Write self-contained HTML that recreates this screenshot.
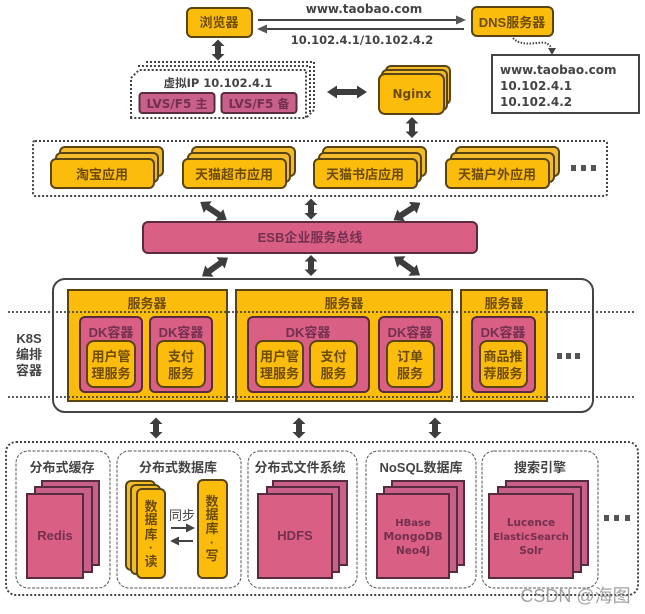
<!DOCTYPE html>
<html><head><meta charset="utf-8">
<style>
html,body{margin:0;padding:0;background:#fff}
svg{display:block}
text{font-family:"Liberation Sans","Noto Sans CJK SC",sans-serif;font-weight:bold;text-anchor:middle}
.y{fill:#fbbc0c;stroke:#5a4412;stroke-width:2}
.y2{fill:#f2bb2c;stroke:#5a4412;stroke-width:2}
.p{fill:#d95f85;stroke:#562c3e;stroke-width:2}
.p2{fill:#c9608a;stroke:#562c3e;stroke-width:2}
.ty{fill:#6d4c08;font-size:13px}
.tp{fill:#73304f;font-size:13px}
.td{fill:#444;font-size:13px}
.l{font-family:"DejaVu Sans","Noto Sans CJK SC",sans-serif}
.dot{fill:none;stroke:#444;stroke-width:2;stroke-dasharray:2 2}
.dash{fill:#fff;stroke:#555;stroke-width:1;stroke-dasharray:3 1.5}
.s{fill:#555}
</style></head><body>
<svg width="645" height="614" viewBox="0 0 645 614" xmlns="http://www.w3.org/2000/svg">
<defs>
<path id="a10" fill="#3d3d3d" d="M0-10.500 6.500-4H3V4H6.500L0 10.500-6.500 4H-3V-4H-6.500Z"/>
<path id="a16" fill="#3d3d3d" d="M0-16 7-7H3V7H7L0 16-7 7H-3V-7H-7Z"/>
<path id="a20" fill="#3d3d3d" d="M0-20 6.500-10H3V10H6.500L0 20-6.500 10H-3V-10H-6.500Z"/>
</defs>

<!-- top row -->
<rect class="y" x="187" y="8" width="65" height="29" rx="5"/>
<text class="ty" x="219" y="27">浏览器</text>
<rect class="y" x="472" y="7" width="81" height="29" rx="5"/>
<text class="ty" x="512" y="27">DNS服务器</text>
<path d="M258 20H458M267 29H464" stroke="#444" stroke-width="2" fill="none"/>
<path d="M466 20 456 15.500V24.500Z M257 29 267 24.500V33.500Z" fill="#555"/>
<text class="td l" x="364" y="13" style="font-size:12px">www.taobao.com</text>
<text class="td l" x="362" y="44" style="font-size:11.500px">10.102.4.1/10.102.4.2</text>
<path d="M513 38C522 48 540 41 546 43 550 45 551 47 552 50" fill="none" stroke="#444" stroke-width="2" stroke-dasharray="1.500 1.500"/>
<path d="M552 55 548 48H556Z" fill="#444"/>
<rect x="492" y="55" width="147" height="58" fill="#fff" stroke="#444" stroke-width="2"/>
<text class="td l" x="500" y="74" style="text-anchor:start;font-size:12px">www.taobao.com</text>
<text class="td l" x="500" y="90" style="text-anchor:start;font-size:12px">10.102.4.1</text>
<text class="td l" x="500" y="106" style="text-anchor:start;font-size:12px">10.102.4.2</text>

<!-- VIP -->
<use href="#a10" x="218" y="50"/>
<path class="dot" d="M146 62H314V110L306 118M138 66H310V114"/>
<path d="M131 118V78L139 70H306V118Z" fill="#fff" stroke="#444" stroke-width="2" stroke-dasharray="2 2"/>
<text class="td l" x="218" y="87" style="font-size:11.500px">虚拟IP 10.102.4.1</text>
<rect class="p2" x="139.500" y="93" width="75" height="20" rx="3"/>
<rect class="p2" x="221.500" y="93" width="75" height="20" rx="3"/>
<text class="tp l" x="177" y="108" style="font-size:12px">LVS/F5 主</text>
<text class="tp l" x="259" y="108" style="font-size:12px">LVS/F5 备</text>
<use href="#a20" transform="translate(347,92) rotate(90)"/>

<!-- Nginx -->
<rect class="y2" x="386" y="66" width="64" height="38" rx="5"/>
<rect class="y2" x="382" y="70" width="65" height="40" rx="5"/>
<rect class="y" x="379" y="74" width="65" height="40" rx="6"/>
<text class="ty l" x="412" y="98" style="font-size:12px">Nginx</text>
<use href="#a10" x="412" y="127.500"/>

<!-- apps -->
<rect x="33" y="141" width="574" height="55" rx="2" class="dot"/>
<rect class="y2" x="60" y="147" width="103" height="29" rx="5"/>
<rect class="y2" x="56" y="153" width="102" height="29" rx="5"/>
<rect class="y" x="51" y="159" width="103" height="29" rx="5"/>
<rect class="y2" x="192" y="147" width="103" height="29" rx="5"/>
<rect class="y2" x="188" y="153" width="102" height="29" rx="5"/>
<rect class="y" x="183" y="159" width="103" height="29" rx="5"/>
<rect class="y2" x="323" y="147" width="103" height="29" rx="5"/>
<rect class="y2" x="319" y="153" width="102" height="29" rx="5"/>
<rect class="y" x="314" y="159" width="103" height="29" rx="5"/>
<rect class="y2" x="456" y="147" width="103" height="29" rx="5"/>
<rect class="y2" x="451" y="153" width="103" height="29" rx="5"/>
<rect class="y" x="446" y="159" width="103" height="29" rx="5"/>
<text class="ty" x="102" y="179">淘宝应用</text>
<text class="ty" x="234" y="179">天猫超市应用</text>
<text class="ty" x="365" y="179">天猫书店应用</text>
<text class="ty" x="497" y="179">天猫户外应用</text>
<path class="s" d="M571 165h5v6h-5zM581 165h5v6h-5zM591 165h5v6h-5z"/>

<!-- ESB -->
<use href="#a16" transform="translate(213.500,211) rotate(-56)"/>
<use href="#a10" x="311" y="209"/>
<use href="#a16" transform="translate(407,211.500) rotate(57)"/>
<rect class="p" x="143" y="222" width="334" height="31" rx="5"/>
<text class="tp" x="310" y="242">ESB企业服务总线</text>
<use href="#a16" transform="translate(215,267) rotate(54)"/>
<use href="#a10" x="311" y="265.500"/>
<use href="#a16" transform="translate(407,266) rotate(-54)"/>

<!-- K8S -->
<rect x="53" y="279" width="540" height="133" rx="12" fill="#fff" stroke="#444" stroke-width="2"/>
<rect class="y" x="68" y="290" width="159" height="111"/>
<rect class="y" x="236" y="290" width="216" height="111"/>
<rect class="y" x="461" y="290" width="86" height="111"/>
<path d="M8 312H635M8 397H635" stroke="#444" stroke-width="1.800" stroke-dasharray="2 2" fill="none"/>
<text class="ty" x="147" y="308">服务器</text>
<text class="ty" x="344" y="308">服务器</text>
<text class="ty" x="504" y="308">服务器</text>
<rect class="p" x="80" y="317" width="62" height="75" rx="5"/>
<rect class="p" x="150" y="317" width="62" height="75" rx="5"/>
<rect class="p" x="248" y="317" width="121" height="75" rx="5"/>
<rect class="p" x="379" y="317" width="63" height="75" rx="5"/>
<rect class="p" x="472" y="317" width="63" height="75" rx="5"/>
<text class="tp" x="111" y="337">DK容器</text>
<text class="tp" x="181" y="337">DK容器</text>
<text class="tp" x="308" y="337">DK容器</text>
<text class="tp" x="410" y="337">DK容器</text>
<text class="tp" x="503" y="337">DK容器</text>
<rect class="y" x="87" y="341" width="48" height="46" rx="7"/>
<rect class="y" x="157" y="341" width="48" height="46" rx="7"/>
<rect class="y" x="256" y="341" width="47" height="46" rx="7"/>
<rect class="y" x="310" y="341" width="47" height="46" rx="7"/>
<rect class="y" x="387" y="341" width="47" height="46" rx="7"/>
<rect class="y" x="480" y="341" width="47" height="46" rx="7"/>
<text class="ty" x="111" y="361">用户管</text><text class="ty" x="111" y="378">理服务</text>
<text class="ty" x="181" y="361">支付</text><text class="ty" x="181" y="378">服务</text>
<text class="ty" x="279.500" y="361">用户管</text><text class="ty" x="279.500" y="378">理服务</text>
<text class="ty" x="333.500" y="361">支付</text><text class="ty" x="333.500" y="378">服务</text>
<text class="ty" x="410" y="361">订单</text><text class="ty" x="410" y="378">服务</text>
<text class="ty" x="503" y="361">商品推</text><text class="ty" x="503" y="378">荐服务</text>
<text class="td" x="29" y="343">K8S</text><text class="td" x="29" y="359">编排</text><text class="td" x="29" y="375">容器</text>
<path class="s" d="M557 353h5v6h-5zM566 353h5v6h-5zM575 353h5v6h-5z"/>
<use href="#a10" x="156" y="428"/>
<use href="#a10" x="299" y="428"/>
<use href="#a10" x="435" y="428"/>

<!-- storage -->
<rect x="6" y="442" width="632" height="153" rx="10" class="dot"/>
<rect class="dash" x="16" y="451" width="94" height="137" rx="12"/>
<rect class="dash" x="117" y="451" width="124" height="137" rx="12"/>
<rect class="dash" x="248" y="451" width="109" height="137" rx="12"/>
<rect class="dash" x="366" y="451" width="110" height="137" rx="12"/>
<rect class="dash" x="482" y="451" width="116" height="137" rx="12"/>
<text class="td" x="62" y="472">分布式缓存</text>
<text class="td" x="178" y="472">分布式数据库</text>
<text class="td" x="300" y="472">分布式文件系统</text>
<text class="td" x="421" y="472">NoSQL数据库</text>
<text class="td" x="540" y="472">搜索引擎</text>

<rect class="p2" x="42" y="481" width="57" height="84"/><rect class="p2" x="35" y="487" width="57" height="85"/><rect class="p" x="27" y="494" width="56" height="84"/>
<rect class="p2" x="273" y="481" width="74" height="84"/><rect class="p2" x="267" y="487" width="72" height="85"/><rect class="p" x="258" y="494" width="74" height="84"/>
<rect class="p2" x="392" y="481" width="72" height="84"/><rect class="p2" x="384" y="487" width="73" height="85"/><rect class="p" x="377" y="494" width="72" height="84"/>
<rect class="p2" x="506" y="481" width="82" height="84"/><rect class="p2" x="498" y="487" width="83" height="85"/><rect class="p" x="489" y="494" width="84" height="84"/>
<text class="tp" x="55" y="540">Redis</text>
<text class="tp" x="295" y="540">HDFS</text>
<text class="tp l" x="413" y="526" style="font-size:10px">HBase</text><text class="tp l" x="413" y="540" style="font-size:11px">MongoDB</text><text class="tp l" x="413" y="554" style="font-size:10.500px">Neo4j</text>
<text class="tp l" x="531" y="526" style="font-size:10.500px">Lucence</text><text class="tp l" x="531" y="540" style="font-size:10px">ElasticSearch</text><text class="tp l" x="531" y="554" style="font-size:10.500px">Solr</text>

<rect class="y2" x="126" y="481" width="29" height="89" rx="5"/>
<rect class="y2" x="131" y="485" width="29" height="89" rx="5"/>
<rect class="y" x="137" y="489" width="28" height="89" rx="5"/>
<rect class="y" x="198" y="480" width="29" height="98" rx="5"/>
<text class="ty" x="151" y="511">数</text><text class="ty" x="151" y="524">据</text><text class="ty" x="151" y="539">库</text><text class="ty" x="151" y="552">·</text><text class="ty" x="151" y="566">读</text>
<text class="ty" x="212" y="506">数</text><text class="ty" x="212" y="519">据</text><text class="ty" x="212" y="533">库</text><text class="ty" x="212" y="547">·</text><text class="ty" x="212" y="560">写</text>
<text class="td" x="182" y="520" style="font-weight:normal">同步</text>
<path d="M171 528H188M177 541H193" stroke="#444" stroke-width="2" fill="none"/>
<path d="M195 528 186 523.500V532.500ZM170 541 179 536.500V545.500Z" fill="#444"/>
<path class="s" d="M604 515h5v6h-5zM614 515h5v6h-5zM625 515h5v6h-5z"/>

<text x="575.500" y="602" style="font-size:18px;font-weight:normal;fill:#8a8a8a;opacity:.8">CSDN @海图</text>
</svg>
</body></html>
